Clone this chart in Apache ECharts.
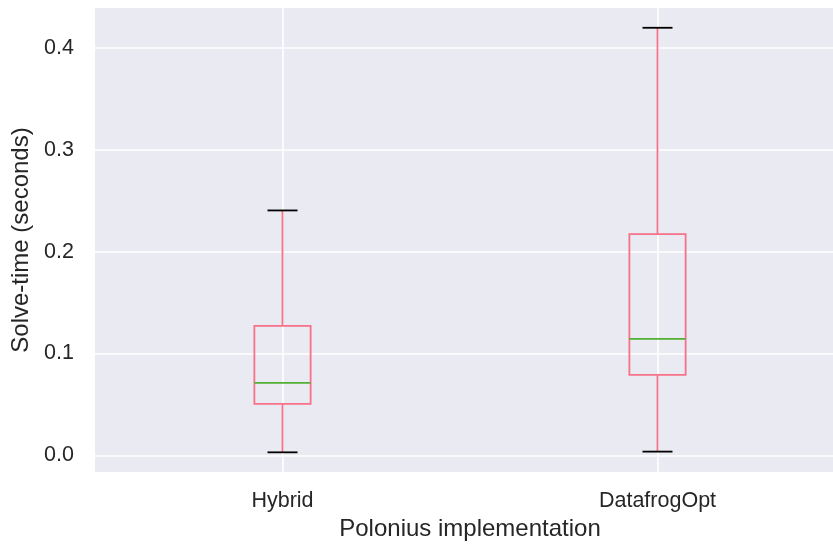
<!DOCTYPE html>
<html>
<head>
<meta charset="utf-8">
<script src="https://cdn.jsdelivr.net/npm/echarts@6/dist/echarts.min.js"></script>
<style>
html,body{margin:0;padding:0;background:#fff;}
#chart{width:833px;height:549px;}
</style>
</head>
<body>
<div id="chart"></div>
<script>
// Data
const categories = ['Hybrid', 'DatafrogOpt'];
const positions  = [1, 2];
const whiskerLow = [0.0031, 0.0038];
const q1Values   = [0.0506, 0.0790];
const medians    = [0.0712, 0.1144];
const q3Values   = [0.1271, 0.2171];
const whiskerHigh = [0.2404, 0.4196];
const yTicks = [0.0, 0.1, 0.2, 0.3, 0.4];

const boxData = categories.map((c, i) => [positions[i], whiskerLow[i], q1Values[i], medians[i], q3Values[i], whiskerHigh[i]]);

const FONT = '"Liberation Sans", Arial, sans-serif';
const TEXT = '#262626';
const PINK = '#f77189';
const GREEN = '#50b131';

const chart = echarts.init(document.getElementById('chart'));

function renderBox(params, api) {
  const x = api.value(0);
  const lo = api.coord([x, api.value(1)]);
  const q1 = api.coord([x, api.value(2)]);
  const md = api.coord([x, api.value(3)]);
  const q3 = api.coord([x, api.value(4)]);
  const hi = api.coord([x, api.value(5)]);
  const unit = api.size([1, 0])[0];
  const bw = unit * 0.15 / 2;
  const cw = unit * 0.08 / 2;
  const cx = lo[0];
  const lw = 1.8;
  const line = (x1, y1, x2, y2, color) => ({
    type: 'line',
    shape: {x1: x1, y1: y1, x2: x2, y2: y2},
    style: {stroke: color, lineWidth: lw, fill: null}
  });
  return {
    type: 'group',
    children: [
      line(cx, q3[1], cx, hi[1], PINK),
      line(cx, q1[1], cx, lo[1], PINK),
      {
        type: 'rect',
        shape: {x: cx - bw, y: q3[1], width: 2 * bw, height: q1[1] - q3[1]},
        style: {stroke: PINK, lineWidth: lw, fill: 'none'}
      },
      line(cx - bw, md[1], cx + bw, md[1], GREEN),
      line(cx - cw, hi[1], cx + cw, hi[1], '#000'),
      line(cx - cw, lo[1], cx + cw, lo[1], '#000')
    ]
  };
}

chart.setOption({
  animation: false,
  backgroundColor: '#ffffff',
  textStyle: {fontFamily: FONT},
  grid: {
    left: 95, right: 0, top: 8, bottom: 77,
    show: true, backgroundColor: '#eaeaf2', borderWidth: 0
  },
  xAxis: {
    type: 'value',
    min: 0.5,
    max: 2.468,
    axisLine: {show: false},
    axisTick: {show: false},
    splitLine: {show: false},
    axisLabel: {
      color: TEXT, fontSize: 21.5, fontFamily: FONT, margin: 18,
      customValues: positions,
      formatter: v => categories[positions.indexOf(v)] || ''
    },
    name: 'Polonius implementation',
    nameLocation: 'middle',
    nameGap: 43,
    nameTextStyle: {color: TEXT, fontSize: 24, fontFamily: FONT, padding: [0, 0, 0, 12]}
  },
  yAxis: {
    type: 'value',
    min: -0.0162,
    max: 0.439,
    axisLine: {show: false},
    axisTick: {show: false},
    splitLine: {show: false},
    axisLabel: {
      color: TEXT, fontSize: 21.5, fontFamily: FONT, margin: 21,
      customValues: yTicks,
      formatter: v => v.toFixed(1)
    },
    name: 'Solve-time (seconds)',
    nameLocation: 'middle',
    nameGap: 56,
    nameTextStyle: {color: TEXT, fontSize: 24, fontFamily: FONT}
  },
  series: [
    {
      type: 'line',
      data: [],
      z: 1,
      silent: true,
      markLine: {
        z: 1,
        silent: true,
        symbol: 'none',
        label: {show: false},
        lineStyle: {color: '#ffffff', width: 1.6, type: 'solid'},
        emphasis: {disabled: true},
        data: yTicks.map(v => ({yAxis: v})).concat(positions.map(p => ({xAxis: p})))
      }
    },
    {
      type: 'custom',
      z: 10,
      renderItem: renderBox,
      encode: {x: 0, y: [1, 2, 3, 4, 5]},
      data: boxData
    }
  ]
});
</script>
</body>
</html>
